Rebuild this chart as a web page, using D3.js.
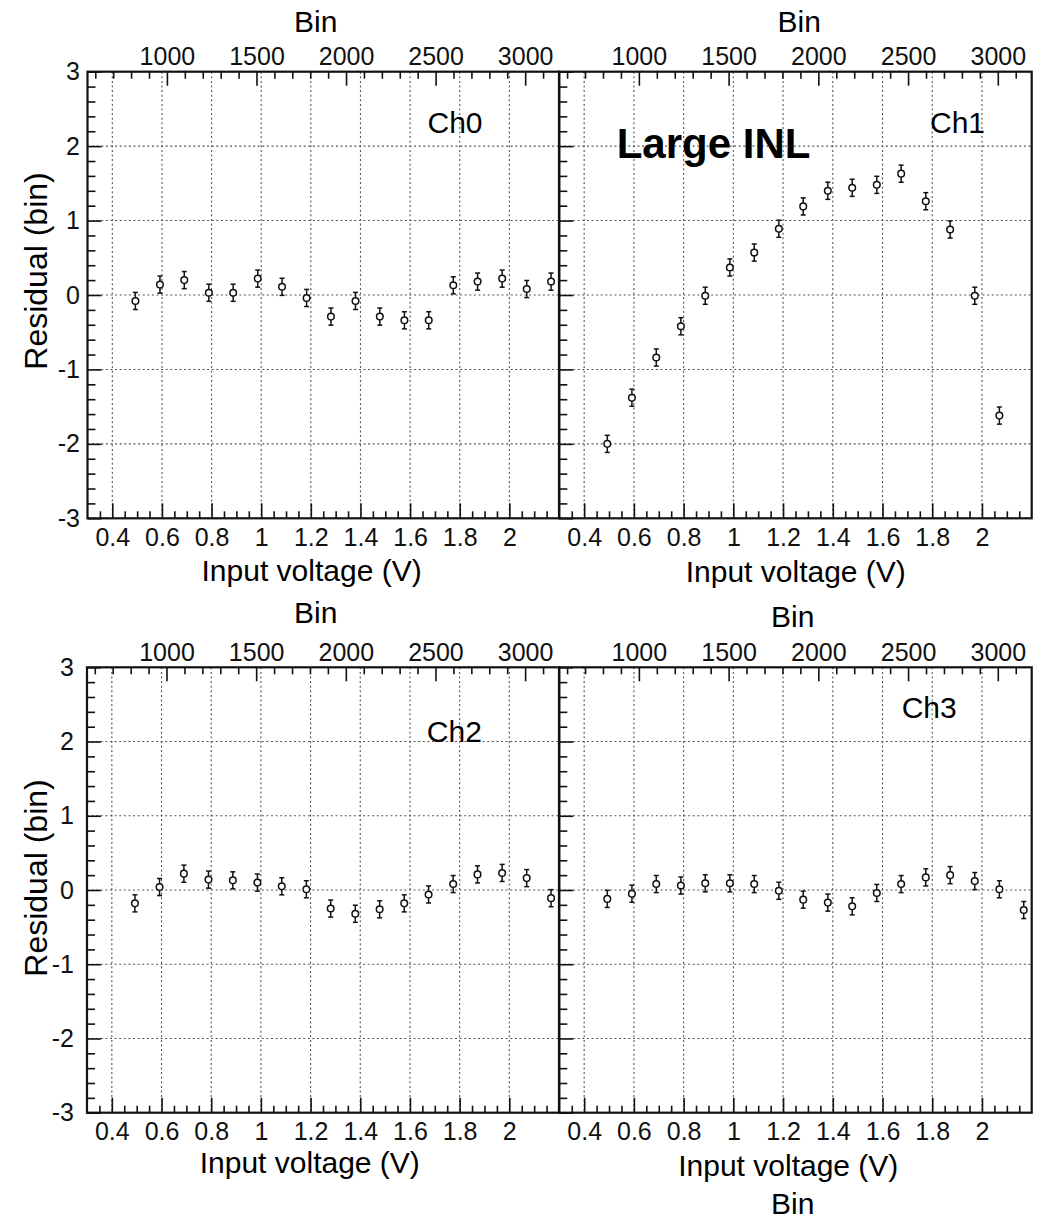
<!DOCTYPE html>
<html><head><meta charset="utf-8">
<script src="https://cdn.jsdelivr.net/npm/d3@7"></script>
<style>
body{margin:0;background:#fff}
svg{display:block;font-family:"Liberation Sans",Arial,Helvetica,sans-serif}
</style></head><body>
<svg id="c" width="1043" height="1218"></svg>
<script>
// ---- data ----
const voltages = [0.493,0.592,0.690,0.789,0.887,0.986,1.084,1.183,1.281,1.380,1.478,1.577,1.675,1.774,1.872,1.971,2.070,2.168];
const ch0 = [-0.08,0.14,0.20,0.03,0.03,0.22,0.11,-0.04,-0.29,-0.08,-0.29,-0.34,-0.34,0.13,0.18,0.22,0.08,0.18];
const ch1 = [-2.00,-1.38,-0.84,-0.42,-0.01,0.37,0.57,0.89,1.19,1.40,1.44,1.48,1.63,1.26,0.88,-0.01,-1.62];
const ch2 = [-0.18,0.04,0.22,0.14,0.13,0.10,0.05,0.01,-0.25,-0.32,-0.26,-0.18,-0.06,0.08,0.21,0.23,0.16,-0.11];
const ch3 = [-0.12,-0.05,0.08,0.06,0.09,0.09,0.08,-0.01,-0.13,-0.17,-0.22,-0.04,0.08,0.17,0.20,0.12,0.01,-0.27];
const residualError = 0.115;
const channelNames = ["Ch0","Ch1","Ch2","Ch3"];
const voltTicks = [0.4,0.6,0.8,1.0,1.2,1.4,1.6,1.8,2.0];
const binTicks = [1000,1500,2000,2500,3000];
const residualTicks = [-3,-2,-1,0,1,2,3];
const gridResidual = [-2,-1,0,1,2];
const voltRange = [0.3, 2.2];
const binRange = [556.6, 3188.9];
const residualRange = [-3, 3];

// ---- layout ----
const svg = d3.select("#c");
const FONT_TICK = 25, FONT_TITLE = 30;
const panels = [
  {vals: ch0, name: channelNames[0], l: 87.5, r: 559, t: 71.7, b: 518.3, showY: true, ypad: 7.5,
   bin: [315.7, 32.3], xt: [311.6, 580.7], yt: [47, 271], ch: [427.5, 132.5]},
  {vals: ch1, name: channelNames[1], l: 559.3, r: 1031.7, t: 71.7, b: 518.3, showY: false, ypad: 8,
   bin: [799.3, 32.3], xt: [795.8, 581.7], ch: [930, 132.5]},
  {vals: ch2, name: channelNames[2], l: 87, r: 559, t: 667.3, b: 1112.7, showY: true, ypad: 13,
   bin: [315.7, 622.7], xt: [309.8, 1172.7], yt: [47, 878], ch: [426.8, 741.7]},
  {vals: ch3, name: channelNames[3], l: 559.3, r: 1031.7, t: 667.3, b: 1112.7, showY: false, ypad: 8,
   bin: [792.7, 626.7], xt: [788.3, 1175.7], ch: [901.7, 718.3]}
];

function styleAxis(g, fs) {
  g.attr("font-size", fs).attr("font-family", null);
  g.select(".domain").remove();
  g.selectAll(".tick line").attr("stroke", "#111").attr("stroke-width", 1.6);
  g.selectAll(".tick text").attr("fill", "#111");
}

function drawPanel(p) {
  const x = d3.scaleLinear().domain(voltRange).range([p.l, p.r]);
  const xb = d3.scaleLinear().domain(binRange).range([p.l, p.r]);
  const y = d3.scaleLinear().domain(residualRange).range([p.b, p.t]);
  const g = svg.append("g");

  // grid
  const grid = g.append("g").attr("stroke", "#555").attr("stroke-width", 1.1).attr("stroke-dasharray", "2,2.6");
  grid.selectAll("line.v").data(voltTicks).join("line").attr("class", "v")
    .attr("x1", d => x(d)).attr("x2", d => x(d)).attr("y1", p.t).attr("y2", p.b);
  grid.selectAll("line.h").data(gridResidual).join("line").attr("class", "h")
    .attr("x1", p.l).attr("x2", p.r).attr("y1", d => y(d)).attr("y2", d => y(d));

  // bottom axis
  const minorV = d3.range(0.35, 2.2, 0.05).filter(v => Math.abs(v*5 - Math.round(v*5)) > 1e-6);
  g.append("g").attr("transform", `translate(0,${p.b})`)
    .call(d3.axisBottom(x).tickValues(minorV).tickSize(-7).tickFormat(""))
    .call(a => styleAxis(a, FONT_TICK));
  g.append("g").attr("transform", `translate(0,${p.b})`)
    .call(d3.axisBottom(x).tickValues(voltTicks).tickSize(-15).tickPadding(10).tickFormat(d3.format("~g")))
    .call(a => styleAxis(a, FONT_TICK));

  // top axis (bins)
  const minorB = d3.range(600, 3200, 100).filter(v => v % 500 !== 0);
  g.append("g").attr("transform", `translate(0,${p.t})`)
    .call(d3.axisTop(xb).tickValues(minorB).tickSize(-7).tickFormat(""))
    .call(a => styleAxis(a, FONT_TICK));
  g.append("g").attr("transform", `translate(0,${p.t})`)
    .call(d3.axisTop(xb).tickValues(binTicks).tickSize(-14).tickPadding(6.5).tickFormat(d => String(d)))
    .call(a => styleAxis(a, FONT_TICK));

  // left axis
  const minorR = d3.range(-2.8, 3, 0.2).filter(v => Math.abs(v - Math.round(v)) > 1e-6);
  g.append("g").attr("transform", `translate(${p.l},0)`)
    .call(d3.axisLeft(y).tickValues(minorR).tickSize(-8).tickFormat(""))
    .call(a => styleAxis(a, FONT_TICK));
  g.append("g").attr("transform", `translate(${p.l},0)`)
    .call(d3.axisLeft(y).tickValues(residualTicks).tickSize(-14).tickPadding(p.ypad)
      .tickFormat(d => p.showY ? String(d) : ""))
    .call(a => styleAxis(a, FONT_TICK));

  // frame
  g.append("rect").attr("x", p.l).attr("y", p.t).attr("width", p.r - p.l).attr("height", p.b - p.t)
    .attr("fill", "none").attr("stroke", "#111").attr("stroke-width", 2.2);

  // titles
  g.append("text").attr("x", p.bin[0]).attr("y", p.bin[1]).attr("text-anchor", "middle")
    .attr("font-size", FONT_TITLE).text("Bin");
  g.append("text").attr("x", p.xt[0]).attr("y", p.xt[1]).attr("text-anchor", "middle")
    .attr("font-size", FONT_TITLE).text("Input voltage (V)");
  if (p.yt) {
    g.append("text").attr("transform", `translate(${p.yt[0]},${p.yt[1]}) rotate(-90)`)
      .attr("text-anchor", "middle").attr("font-size", 32).text("Residual (bin)");
  }
  g.append("text").attr("x", p.ch[0]).attr("y", p.ch[1]).attr("font-size", 30).text(p.name);

  // data points with error bars
  const pts = p.vals.map((v, i) => ({x: voltages[i], y: v}));
  const eg = g.append("g").attr("stroke", "#111").attr("stroke-width", 1.5);
  eg.selectAll("line.eb").data(pts).join("line").attr("class", "eb")
    .attr("x1", d => x(d.x)).attr("x2", d => x(d.x))
    .attr("y1", d => y(d.y - residualError)).attr("y2", d => y(d.y + residualError));
  eg.selectAll("line.cu").data(pts).join("line").attr("class", "cu")
    .attr("x1", d => x(d.x) - 2.5).attr("x2", d => x(d.x) + 2.5)
    .attr("y1", d => y(d.y + residualError)).attr("y2", d => y(d.y + residualError));
  eg.selectAll("line.cl").data(pts).join("line").attr("class", "cl")
    .attr("x1", d => x(d.x) - 2.5).attr("x2", d => x(d.x) + 2.5)
    .attr("y1", d => y(d.y - residualError)).attr("y2", d => y(d.y - residualError));
  g.append("g").selectAll("circle").data(pts).join("circle")
    .attr("cx", d => x(d.x)).attr("cy", d => y(d.y)).attr("r", 3.3)
    .attr("fill", "#fff").attr("stroke", "#111").attr("stroke-width", 1.5);
}

panels.forEach(drawPanel);

// annotations
svg.append("text").attr("x", 616.7).attr("y", 158.3).attr("font-size", 42).attr("font-weight", "bold")
  .text("Large INL");
svg.append("text").attr("x", 792.8).attr("y", 1213.5).attr("text-anchor", "middle")
  .attr("font-size", FONT_TITLE).text("Bin");
</script>
</body></html>
